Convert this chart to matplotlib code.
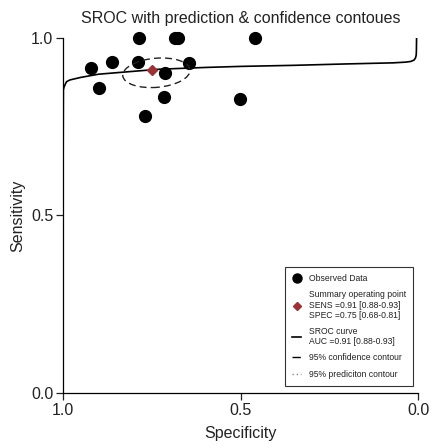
import matplotlib
matplotlib.use("Agg")
import matplotlib.pyplot as plt
from matplotlib.lines import Line2D
from matplotlib.patches import Ellipse

plt.rcParams['font.family'] = ['Liberation Sans', 'DejaVu Sans']

# observed studies (specificity, sensitivity)
obs_spec = [0.921, 0.863, 0.786, 0.790, 0.684, 0.675, 0.459, 0.645, 0.713, 0.900, 0.715, 0.501, 0.769]
obs_sens = [0.915, 0.933, 1.000, 0.932, 1.000, 1.000, 1.000, 0.929, 0.900, 0.858, 0.835, 0.827, 0.780]

# summary operating point
sum_spec = 0.75
sum_sens = 0.91

# SROC curve
sroc_spec = [1.0, 0.9995, 0.999, 0.997, 0.993, 0.99, 0.98, 0.95, 0.9, 0.84, 0.73, 0.6, 0.5,
             0.35, 0.2, 0.07, 0.035, 0.02, 0.011, 0.007, 0.005, 0.0045, 0.004]
sroc_sens = [0.0, 0.70, 0.854, 0.862, 0.871, 0.877, 0.882, 0.889, 0.898, 0.903, 0.912, 0.917, 0.920,
             0.923, 0.927, 0.930, 0.932, 0.934, 0.938, 0.944, 0.952, 0.965, 1.0]

# 95% confidence contour
conf_center = (0.737, 0.902)
conf_width = 0.19
conf_height = 0.082
conf_angle = -5

fig = plt.figure(figsize=(4.29, 4.42), dpi=100)
ax = fig.add_axes([63 / 429, 1 - 393 / 442, 355 / 429, 355 / 442])

ax.plot(sroc_spec, sroc_sens, color='black', lw=1.2, zorder=2)
ax.plot(obs_spec, obs_sens, 'o', color='black', ms=8.5, clip_on=False, zorder=3)
ax.add_patch(Ellipse(conf_center, conf_width, conf_height, angle=conf_angle,
                     fill=False, ls=(0, (5, 3)), lw=1.0, color='#222222', zorder=4))
ax.plot([sum_spec], [sum_sens], 'D', color='#9b3235', ms=5.5, zorder=5)

ax.set_xlim(1, 0)
ax.set_ylim(0, 1)
ax.set_xticks([1.0, 0.5, 0.0])
ax.set_yticks([0.0, 0.5, 1.0])
ax.set_xticklabels(['1.0', '0.5', '0.0'])
ax.set_yticklabels(['0.0', '0.5', '1.0'])
for s in ['top', 'right']:
    ax.spines[s].set_visible(False)
ax.spines['left'].set_linewidth(0.9)
ax.spines['bottom'].set_linewidth(0.9)
ax.tick_params(length=5, width=0.9, pad=2, labelsize=11.5, colors='#222222')
ax.set_xlabel('Specificity', fontsize=11.5, labelpad=6, color='#222222')
ax.set_ylabel('Sensitivity', fontsize=11.5, labelpad=4, color='#222222')
ax.set_title('SROC with prediction & confidence contoues', fontsize=11.5, pad=11, color='#222222')

handles = [
    Line2D([], [], marker='o', color='black', ls='none', ms=6.5),
    Line2D([], [], marker='D', color='#9b3235', ls='none', ms=4.5),
    Line2D([], [], color='black', lw=1.2),
    Line2D([], [], color='black', lw=1.0, ls=(0, (6, 2))),
    Line2D([], [], color='#888888', lw=1.0, ls=(0, (1, 2))),
]
labels = [
    'Observed Data',
    'Summary operating point\nSENS =0.91 [0.88-0.93]\nSPEC =0.75 [0.68-0.81]',
    'SROC curve\nAUC =0.91 [0.88-0.93]',
    '95% confidence contour',
    '95% prediciton contour',
]
leg = ax.legend(handles, labels, loc='lower right', bbox_to_anchor=(0.986, 0.02),
                borderaxespad=0, fancybox=False, frameon=True, fontsize=6.2,
                handlelength=1.0, handletextpad=0.9, labelspacing=0.85,
                borderpad=0.85, edgecolor='black')
leg.get_frame().set_linewidth(0.8)
for t in leg.get_texts():
    t.set_linespacing(1.15)
    t.set_color('#222222')

fig.savefig('out.png', dpi=100)
